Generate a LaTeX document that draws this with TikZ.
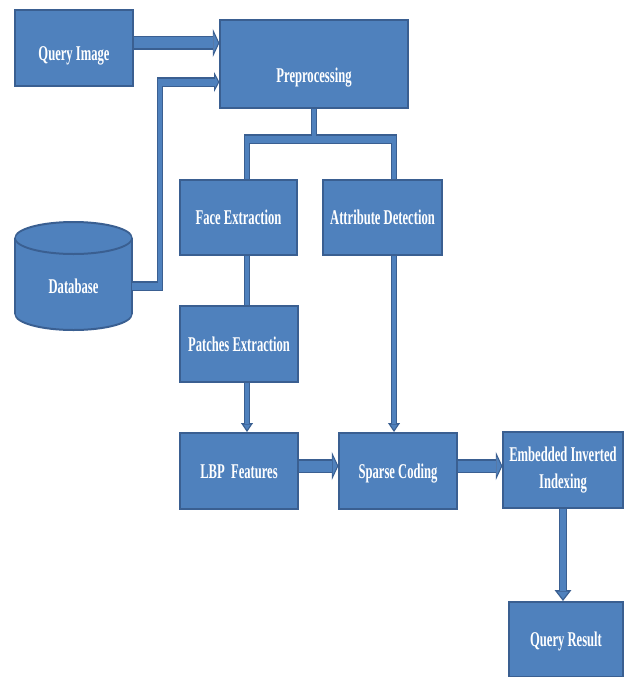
\documentclass[tikz,border=0pt]{standalone}
\usepackage{fontspec}
\setmainfont{Liberation Serif}
\usetikzlibrary{arrows.meta}
\definecolor{boxfill}{HTML}{4F81BD}
\definecolor{edgec}{HTML}{3A5F91}
\begin{document}
\begin{tikzpicture}
\useasboundingbox (0,0) rectangle (624pt,-677pt);
\fill[white] (0,0) rectangle (624pt,-677pt);
\begin{scope}[transform canvas={xscale=0.6}, x=1.6666667pt, y=-1pt,
  box/.style={draw=edgec, fill=boxfill, line width=2pt, text=white,
    font=\fontsize{21}{27}\selectfont\bfseries, inner sep=0pt, align=center,
    minimum height=76pt},
  one/.style={text height=14pt, text depth=0pt},
  cyl/.style={draw=edgec, fill=boxfill, line width=2pt},
  thinp/.style={draw=boxfill, line width=7pt, line join=miter,
    preaction={draw=edgec, line width=10pt, line join=miter}},
  thina/.style={draw=boxfill, line width=7pt, line join=miter, shorten >=8pt,
    preaction={draw=edgec, line width=10pt, line join=miter, shorten >=0pt,
      -{Triangle[length=9pt,width=20pt,fill=boxfill,line width=1.5pt]}}},
  fata/.style={draw=boxfill, line width=11pt, line join=miter, shorten >=10pt,
    preaction={draw=edgec, line width=14pt, line join=miter, shorten >=0pt,
      -{Triangle[length=11pt,width=28pt,fill=boxfill,line width=1.5pt]}}}
]
% boxes
\node[box,one,minimum width=196.7pt,text height=26pt] (qi) at (74,48) {Query Image};
\node[box,one,minimum width=313.3pt,minimum height=88pt,text height=36pt] (pp) at (314,64) {Preprocessing};
\node[box,one,minimum width=195pt,minimum height=75pt] (fe) at (238.5,217.5) {Face Extraction};
\node[box,one,minimum width=198.3pt,minimum height=75pt] (ad) at (382.5,217.5) {Attribute Detection};
\node[box,one,minimum width=196.7pt] (pe) at (239,344) {Patches Extraction};
\node[box,one,minimum width=196.7pt] (lbp) at (239,471) {LBP\ \ Features};
\node[box,one,minimum width=196.7pt] (sc) at (398,471) {Sparse Coding};
\node[box,minimum width=200pt] (eii) at (563,470) {Embedded Inverted\\Indexing};
\node[box,one,minimum width=190pt,minimum height=75pt] (qr) at (566,639.5) {Query Result};
% database cylinder
\filldraw[cyl] (73.5,314) ellipse [x radius=97.5pt, y radius=16pt];
\fill[boxfill] (15,238) rectangle (132,314);
\draw[draw=edgec, line width=2pt] (15,238) -- (15,314) (132,238) -- (132,314);
\filldraw[cyl] (73.5,238) ellipse [x radius=97.5pt, y radius=16pt];
\node[text=white, font=\fontsize{21}{27}\selectfont\bfseries, inner sep=0pt,
  minimum width=195pt, text height=14pt, text depth=0pt] (db) at (73.5,286) {Database};
% connectors
\draw[fata] (qi.east |- 0,43) -- (pp.west |- 0,43);
\draw[thina] (db.east) -| (160,82) -- (pp.west |- 0,82);
\draw[thinp] (pp.south) -- (pp.south |- 0,139)
  (fe.north -| 247,0) -- (247,139) -- (394,139) -- (ad.north -| 394,0);
\draw[thinp] (fe.south -| 247,0) -- (pe.north -| 247,0);
\draw[thina] (pe.south -| 247,0) -- (lbp.north -| 247,0);
\draw[thina] (ad.south -| 394,0) -- (sc.north -| 394,0);
\draw[fata] (lbp.east |- 0,466) -- (sc.west |- 0,466);
\draw[fata] (sc.east |- 0,466) -- (eii.west |- 0,466);
\draw[fata] (eii.south -| 563,0) -- (qr.north -| 563,0);
\end{scope}
\end{tikzpicture}
\end{document}
